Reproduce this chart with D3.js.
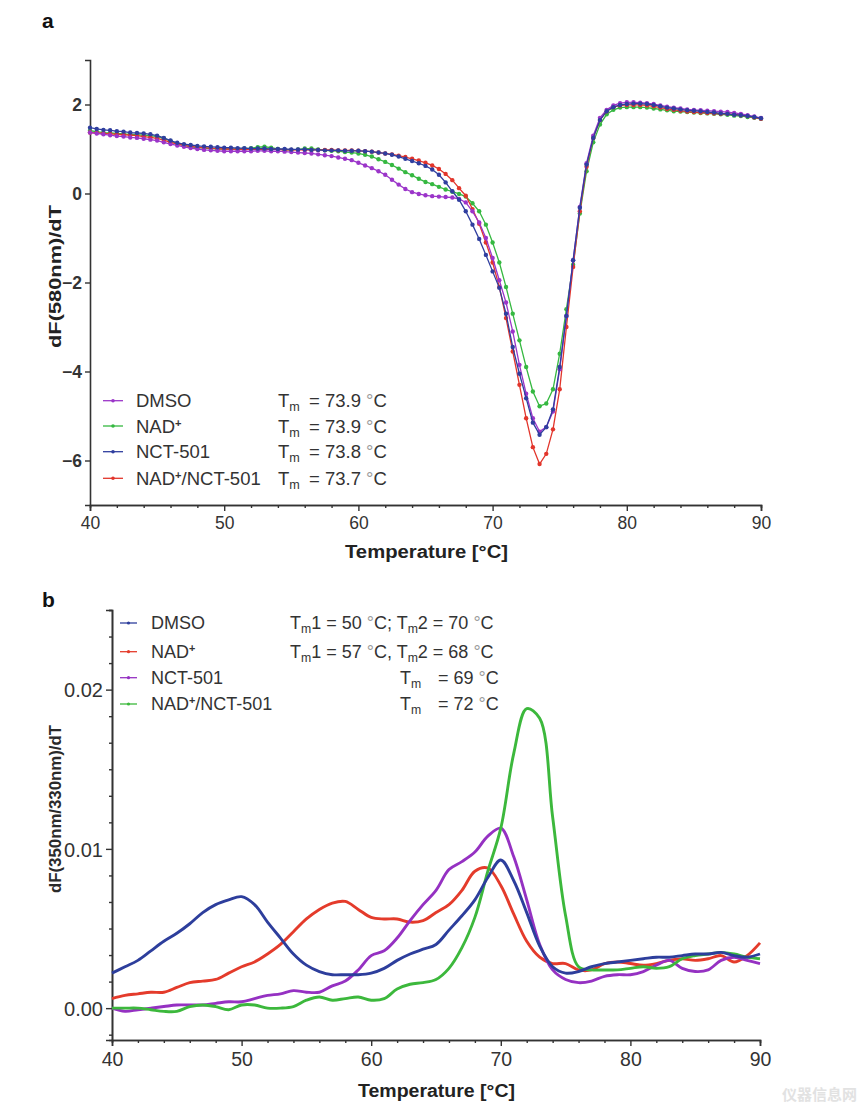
<!DOCTYPE html>
<html><head><meta charset="utf-8">
<script src="https://cdn.jsdelivr.net/npm/d3@7"></script>
<style>
body{margin:0;background:#fff}
svg{display:block;font-family:"Liberation Sans",Arial,Helvetica,sans-serif}
</style></head>
<body><svg id="c" width="865" height="1115"></svg>
<script>
// ---------------- Panel a data (dF(580nm)/dT) ----------------
const tempA = [40,40.5,41,41.5,42,42.5,43,43.5,44,44.5,45,45.5,46,46.5,47,47.5,48,48.5,49,49.5,
50,50.5,51,51.5,52,52.5,53,53.5,54,54.5,55,55.5,56,56.5,57,57.5,58,58.5,59,59.5,
60,60.5,61,61.5,62,62.5,63,63.5,64,64.5,65,65.5,66,66.5,67,67.5,68,68.5,69,69.5,
70,70.5,71,71.5,72,72.5,73,73.5,74,74.5,75,75.5,76,76.5,77,77.5,78,78.5,79,79.5,
80,80.5,81,81.5,82,82.5,83,83.5,84,84.5,85,85.5,86,86.5,87,87.5,88,88.5,89,89.5,90];
const aDMSO = [1.37,1.35,1.33,1.31,1.29,1.28,1.26,1.25,1.23,1.21,
1.19,1.15,1.11,1.08,1.05,1.02,1.00,0.98,0.97,0.96,
0.95,0.95,0.95,0.95,0.95,0.96,0.96,0.95,0.95,0.94,
0.93,0.92,0.91,0.90,0.88,0.86,0.84,0.81,0.78,0.75,
0.69,0.63,0.57,0.50,0.42,0.31,0.20,0.10,0.03,-0.01,
-0.04,-0.06,-0.07,-0.08,-0.09,-0.12,-0.20,-0.40,-0.65,-1.00,
-1.45,-1.95,-2.45,-3.10,-3.85,-4.50,-5.05,-5.35,-5.25,-4.90,
-3.95,-2.75,-1.50,-0.30,0.68,1.30,1.70,1.88,1.98,2.03,
2.05,2.05,2.04,2.03,2.01,1.98,1.95,1.93,1.91,1.89,
1.88,1.87,1.86,1.85,1.84,1.83,1.81,1.79,1.76,1.73,1.70];
const aNAD = [1.41,1.39,1.37,1.36,1.35,1.34,1.33,1.32,1.31,1.30,
1.28,1.24,1.18,1.12,1.08,1.05,1.03,1.02,1.01,1.00,
1.00,1.00,1.00,1.01,1.02,1.04,1.05,1.03,1.00,0.98,
0.98,0.99,1.01,1.01,0.99,0.97,0.96,0.95,0.93,0.92,
0.90,0.87,0.83,0.77,0.71,0.64,0.56,0.48,0.41,0.33,
0.26,0.21,0.15,0.09,0.04,-0.01,-0.07,-0.22,-0.40,-0.70,
-1.10,-1.55,-2.10,-2.70,-3.30,-3.90,-4.45,-4.78,-4.72,-4.40,
-3.60,-2.60,-1.60,-0.45,0.50,1.15,1.55,1.78,1.88,1.93,
1.94,1.94,1.94,1.93,1.91,1.89,1.87,1.85,1.84,1.83,
1.82,1.81,1.80,1.79,1.78,1.77,1.75,1.74,1.72,1.70,1.68];
const aNCT = [1.48,1.45,1.43,1.42,1.40,1.39,1.37,1.36,1.35,1.33,
1.30,1.25,1.19,1.14,1.11,1.09,1.07,1.06,1.05,1.04,
1.03,1.03,1.02,1.02,1.01,1.01,1.01,1.00,1.00,1.00,
0.99,0.99,0.99,0.98,0.98,0.97,0.97,0.97,0.96,0.96,
0.96,0.95,0.94,0.92,0.90,0.87,0.83,0.78,0.73,0.68,
0.62,0.54,0.42,0.25,0.05,-0.14,-0.40,-0.70,-1.02,-1.38,
-1.75,-2.12,-2.70,-3.45,-4.05,-4.60,-5.15,-5.42,-5.25,-4.85,
-3.90,-2.75,-1.50,-0.32,0.65,1.25,1.65,1.85,1.94,1.99,
2.01,2.02,2.02,2.01,1.99,1.96,1.93,1.91,1.89,1.87,
1.86,1.85,1.83,1.82,1.80,1.79,1.77,1.76,1.74,1.72,1.69];
const aBoth = [1.37,1.36,1.35,1.34,1.33,1.32,1.31,1.30,1.28,1.26,
1.24,1.20,1.15,1.11,1.08,1.06,1.04,1.03,1.02,1.01,
1.00,1.00,0.99,0.99,0.99,0.99,0.99,0.99,0.99,0.98,
0.98,0.98,0.98,0.98,0.98,0.98,0.98,0.97,0.97,0.97,
0.96,0.95,0.94,0.92,0.90,0.88,0.85,0.82,0.78,0.74,
0.69,0.63,0.55,0.44,0.30,0.12,-0.05,-0.35,-0.68,-1.10,
-1.55,-2.10,-2.80,-3.55,-4.30,-5.05,-5.70,-6.08,-5.85,-5.30,
-4.40,-3.00,-1.65,-0.40,0.60,1.25,1.65,1.85,1.94,1.98,
1.99,1.99,1.99,1.98,1.96,1.93,1.90,1.88,1.86,1.84,
1.83,1.82,1.81,1.80,1.79,1.79,1.78,1.76,1.74,1.71,1.68];
const namesA = ["DMSO","NAD+","NCT-501","NAD+/NCT-501"];
const tmA = ["73.9","73.9","73.8","73.7"];
const xTicksA = [40,50,60,70,80,90];
const yTicksA = [-6,-4,-2,0,2];

// ---------------- Panel b data (dF(350nm/330nm)/dT) ----------------
const tempB = [40,41,42,43,44,45,46,47,48,49,50,51,52,53,54,55,56,57,58,59,
60,61,62,63,64,65,66,67,68,69,70,71,72,73,74,75,76,77,78,79,
80,81,82,83,84,85,86,87,88,89,90];
const bDMSO = [0.0022,0.0026,0.0030,0.0036,0.0042,0.0047,0.0053,0.0060,0.0065,0.0068,
0.0070,0.0065,0.0054,0.0044,0.0034,0.0027,0.0023,0.0021,0.0021,0.0021,
0.0022,0.0025,0.0030,0.0034,0.0037,0.0040,0.0049,0.0058,0.0068,0.0082,
0.0093,0.0080,0.0060,0.0039,0.0026,0.0022,0.0023,0.0026,0.0028,0.0029,
0.0030,0.0031,0.0032,0.0032,0.0033,0.0034,0.0034,0.0035,0.0033,0.0032,0.0034];
const bNAD = [0.0006,0.0008,0.0009,0.0010,0.0010,0.0013,0.0016,0.0017,0.0018,0.0022,
0.0026,0.0029,0.0034,0.0040,0.0048,0.0056,0.0062,0.0066,0.0067,0.0062,
0.0057,0.0056,0.0056,0.0054,0.0055,0.0060,0.0065,0.0074,0.0086,0.0088,
0.0077,0.0059,0.0042,0.0032,0.0028,0.0028,0.0024,0.0024,0.0028,0.0029,
0.0028,0.0027,0.0028,0.0030,0.0031,0.0030,0.0031,0.0033,0.0029,0.0033,0.0041];
const bNCT = [0.0000,-0.0002,-0.0001,0.0000,0.0001,0.0002,0.0002,0.0002,0.0003,0.0004,
0.0004,0.0006,0.0008,0.0009,0.0011,0.0010,0.0010,0.0014,0.0017,0.0024,
0.0033,0.0036,0.0044,0.0055,0.0065,0.0074,0.0087,0.0092,0.0098,0.0108,
0.0113,0.0095,0.0068,0.0040,0.0024,0.0018,0.0016,0.0017,0.0020,0.0021,
0.0021,0.0023,0.0027,0.0030,0.0025,0.0023,0.0024,0.0030,0.0032,0.0030,0.0028];
const bBoth = [0.0000,0.0000,0.0000,-0.0001,-0.0002,-0.0002,0.0001,0.0002,0.0001,-0.0001,
0.0002,0.0002,0.0000,0.0000,0.0001,0.0005,0.0007,0.0005,0.0006,0.0007,
0.0005,0.0006,0.0012,0.0015,0.0016,0.0018,0.0025,0.0038,0.0057,0.0086,
0.0113,0.0160,0.0188,0.0182,0.0120,0.0058,0.0026,0.0024,0.0024,0.0024,
0.0025,0.0026,0.0025,0.0026,0.0031,0.0033,0.0034,0.0035,0.0034,0.0032,0.0031];
const namesB = ["DMSO","NAD+","NCT-501","NAD+/NCT-501"];
const tmB = ["T_{m}1 = 50 °C; T_{m}2 = 70 °C","T_{m}1 = 57 °C, T_{m}2 = 68 °C","T_{m}|= 69 °C","T_{m}|= 72 °C"];
const xTicksB = [40,50,60,70,80,90];
const yTicksB = [0.00,0.01,0.02];

// ---------------- drawing ----------------
const svg = d3.select("#c");
const INK = "#333";
const colA = ["#9b35c9","#35b840","#2f3e9f","#e2352b"];
const colB = ["#2d3e9c","#e43b2b","#9531c2","#3cb83c"];

// rich text: "_{x}" subscript, "+" superscript (in names), "°" light, "|" jump to opts.jumpX
function rich(g, str, x, y, size, opts) {
  opts = opts || {};
  const t = g.append("text").attr("x", x).attr("y", y)
    .attr("font-size", size).attr("fill", INK).attr("xml:space","preserve");
  const re = /(_\{[^}]*\}|\+|°|\|)/g;
  const parts = str.split(re).filter(s => s !== "");
  let shift = 0, jump = null;
  parts.forEach(p => {
    if (p === "|") { jump = opts.jumpX; return; }
    let ts;
    if (p.startsWith("_{")) {
      ts = t.append("tspan").attr("dy", 4 - shift).attr("font-size", size * 0.68).text(p.slice(2, -1));
      shift = 4;
    } else if (p === "+" && opts.sup) {
      ts = t.append("tspan").attr("dy", -6 - shift).attr("font-size", size * 0.6).attr("font-weight","bold").text("+");
      shift = -6;
    } else if (p === "°") {
      ts = t.append("tspan").attr("dy", -shift).attr("fill", "#9a9a9a").text("°");
      shift = 0;
    } else {
      ts = t.append("tspan").attr("dy", -shift).text(p);
      shift = 0;
    }
    if (jump !== null) { ts.attr("x", jump); jump = null; }
  });
  return t;
}

function styleAxis(g, fs) {
  g.select(".domain").attr("stroke", INK).attr("stroke-width", 1.6);
  g.selectAll(".tick line").attr("stroke", INK).attr("stroke-width", 1.4);
  g.selectAll(".tick text").attr("fill", INK).attr("font-size", fs)
    .attr("font-family", '"Liberation Sans",Arial,sans-serif');
}

// ===== Panel a =====
const xA = d3.scaleLinear().domain([40, 90]).range([90, 761]);
const yA = d3.scaleLinear().domain([-7, 3]).range([505, 60]);

svg.append("text").attr("x", 42).attr("y", 28).attr("font-size", 21)
  .attr("font-weight", "bold").attr("fill", "#111").text("a");

const gxA = svg.append("g").attr("transform", "translate(0,505)")
  .call(d3.axisBottom(xA).tickValues(d3.range(42, 90, 2).filter(v => v % 10 !== 0)).tickSize(3).tickFormat(""));
styleAxis(gxA, 17);
const gxA2 = svg.append("g").attr("transform", "translate(0,505)")
  .call(d3.axisBottom(xA).tickValues(xTicksA).tickSize(6).tickPadding(6).tickFormat(d3.format("d")));
styleAxis(gxA2, 17.5);
const gyA = svg.append("g").attr("transform", "translate(90,0)")
  .call(d3.axisLeft(yA).tickValues(yTicksA).tickSize(5).tickPadding(3).tickFormat(d3.format("d")));
styleAxis(gyA, 17.5);
gyA.selectAll(".tick text").attr("font-weight", "bold").attr("dy", "0.36em");

svg.append("text").attr("transform", "translate(61,276.5) rotate(-90)")
  .attr("text-anchor", "middle").attr("font-size", 17).attr("font-weight", "bold")
  .attr("fill", "#222").attr("textLength", 143).attr("lengthAdjust", "spacingAndGlyphs")
  .text("dF(580nm)/dT");
svg.append("text").attr("x", 426.5).attr("y", 558).attr("text-anchor", "middle")
  .attr("font-size", 18).attr("font-weight", "bold").attr("fill", "#222")
  .attr("textLength", 163).attr("lengthAdjust", "spacingAndGlyphs")
  .text("Temperature [°C]");

const seriesA = [aDMSO, aNAD, aNCT, aBoth];
const lineA = d3.line().x((d, i) => xA(tempA[i])).y(d => yA(d));
const orderA = [1, 3, 0, 2];
orderA.forEach(k => {
  const g = svg.append("g");
  g.append("path").datum(seriesA[k]).attr("d", lineA).attr("fill", "none")
    .attr("stroke", colA[k]).attr("stroke-width", 1.3);
  g.selectAll("circle").data(seriesA[k]).join("circle")
    .attr("cx", (d, i) => xA(tempA[i])).attr("cy", d => yA(d)).attr("r", 2.2)
    .attr("fill", colA[k]);
});

// legend a
const legA = svg.append("g");
const rowYA = [400.7, 426, 451.7, 478.3];
namesA.forEach((n, i) => {
  legA.append("line").attr("x1", 103).attr("x2", 123).attr("y1", rowYA[i]).attr("y2", rowYA[i])
    .attr("stroke", colA[i]).attr("stroke-width", 1.3);
  legA.append("circle").attr("cx", 113).attr("cy", rowYA[i]).attr("r", 1.8).attr("fill", colA[i]);
  rich(legA, n, 136, rowYA[i] + 6.5, 18.5, {sup: true});
  rich(legA, "T_{m}|= " + tmA[i] + " °C", 278, rowYA[i] + 6.5, 18.5, {jumpX: 309});
});

// ===== Panel b =====
const xB = d3.scaleLinear().domain([40, 90]).range([112, 760]);
const yB = d3.scaleLinear().domain([-0.002, 0.025]).range([1040, 610]);

svg.append("text").attr("x", 42).attr("y", 607).attr("font-size", 21)
  .attr("font-weight", "bold").attr("fill", "#111").text("b");

const gxB = svg.append("g").attr("transform", "translate(0,1040)")
  .call(d3.axisBottom(xB).tickValues(d3.range(42, 90, 2).filter(v => v % 10 !== 0)).tickSize(3).tickFormat(""));
styleAxis(gxB, 19);
const gxB2 = svg.append("g").attr("transform", "translate(0,1040)")
  .call(d3.axisBottom(xB).tickValues(xTicksB).tickSize(6).tickPadding(6).tickFormat(d3.format("d")));
styleAxis(gxB2, 19.5);
const gyB = svg.append("g").attr("transform", "translate(112,0)")
  .call(d3.axisLeft(yB).tickValues(d3.range(-1, 16).filter(i => i % 6 !== 0).map(i => i * 0.01 / 6)).tickSize(3).tickFormat(""));
styleAxis(gyB, 19);
const gyB2 = svg.append("g").attr("transform", "translate(112,0)")
  .call(d3.axisLeft(yB).tickValues(yTicksB).tickSize(6).tickPadding(3).tickFormat(d3.format(".2f")));
styleAxis(gyB2, 20);
gyB2.selectAll(".tick text").attr("dy", "0.36em");

svg.append("text").attr("transform", "translate(61,809) rotate(-90)")
  .attr("text-anchor", "middle").attr("font-size", 17).attr("font-weight", "bold").attr("fill", "#2a2a2a")
  .attr("textLength", 168).attr("lengthAdjust", "spacingAndGlyphs")
  .text("dF(350nm/330nm)/dT");
svg.append("text").attr("x", 436.5).attr("y", 1097).attr("text-anchor", "middle")
  .attr("font-size", 17.5).attr("font-weight", "bold").attr("fill", "#222")
  .attr("textLength", 157).attr("lengthAdjust", "spacingAndGlyphs")
  .text("Temperature [°C]");

const seriesB = [bDMSO, bNAD, bNCT, bBoth];
const lineB = d3.line().x((d, i) => xB(tempB[i])).y(d => yB(d)).curve(d3.curveCatmullRom.alpha(0.5));
const orderB = [1, 2, 3, 0];
orderB.forEach(k => {
  svg.append("path").datum(seriesB[k]).attr("d", lineB).attr("fill", "none")
    .attr("stroke", colB[k]).attr("stroke-width", 2.9).attr("stroke-linejoin", "round");
});

// legend b
const legB = svg.append("g");
const rowYB = [623, 651.7, 677.7, 704];
namesB.forEach((n, i) => {
  legB.append("line").attr("x1", 120).attr("x2", 137).attr("y1", rowYB[i]).attr("y2", rowYB[i])
    .attr("stroke", colB[i]).attr("stroke-width", 1.3);
  legB.append("circle").attr("cx", 128.5).attr("cy", rowYB[i]).attr("r", 1.6).attr("fill", colB[i]);
  rich(legB, n, 151, rowYB[i] + 6, 18, {sup: true});
  const startX = tmB[i].indexOf("|") >= 0 ? 400 : 290;
  rich(legB, tmB[i], startX, rowYB[i] + 6, 18, {jumpX: 438});
});

// watermark
svg.append("text").attr("x", 782).attr("y", 1100).attr("font-size", 15)
  .attr("font-family", '"Noto Sans CJK SC",sans-serif').attr("font-weight", "bold")
  .attr("fill", "#e2e2e2").text("仪器信息网");
</script></body></html>
